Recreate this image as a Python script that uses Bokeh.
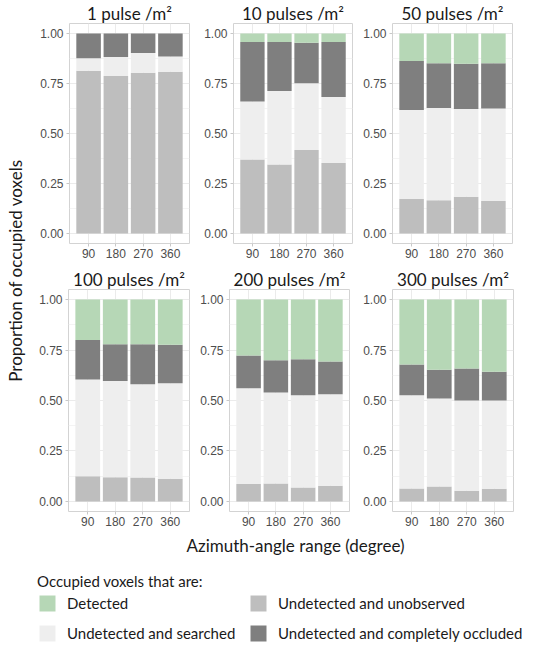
from bokeh.plotting import figure
from bokeh.models import (ColumnDataSource, FactorRange, Range1d, FixedTicker,
                          NumeralTickFormatter, Title, Label, Legend, LegendItem)
from bokeh.layouts import row, column
from bokeh.embed import file_html
from bokeh.resources import INLINE

# ---------------- data ----------------
angles = ["90", "180", "270", "360"]
panel_titles = ["1 pulse /m²", "10 pulses /m²", "50 pulses /m²",
                "100 pulses /m²", "200 pulses /m²", "300 pulses /m²"]

# proportions per panel (rows) and azimuth range (columns)
undetected_unobserved = [
    [0.814, 0.788, 0.804, 0.809],
    [0.370, 0.345, 0.418, 0.352],
    [0.172, 0.166, 0.184, 0.163],
    [0.125, 0.120, 0.119, 0.112],
    [0.086, 0.089, 0.069, 0.078],
    [0.064, 0.074, 0.053, 0.063],
]
undetected_searched = [
    [0.062, 0.095, 0.099, 0.076],
    [0.290, 0.368, 0.333, 0.331],
    [0.445, 0.461, 0.438, 0.462],
    [0.479, 0.477, 0.462, 0.474],
    [0.475, 0.451, 0.457, 0.453],
    [0.462, 0.436, 0.447, 0.437],
]
undetected_occluded = [
    [0.124, 0.117, 0.097, 0.115],
    [0.298, 0.245, 0.203, 0.274],
    [0.245, 0.224, 0.227, 0.226],
    [0.196, 0.182, 0.198, 0.190],
    [0.162, 0.160, 0.179, 0.162],
    [0.152, 0.142, 0.158, 0.142],
]
detected = [
    [0.000, 0.000, 0.000, 0.000],
    [0.042, 0.042, 0.046, 0.043],
    [0.138, 0.149, 0.151, 0.149],
    [0.200, 0.221, 0.221, 0.224],
    [0.277, 0.300, 0.295, 0.307],
    [0.322, 0.348, 0.342, 0.358],
]

y_ticks = [0.0, 0.25, 0.5, 0.75, 1.0]
y_minor = [0.125, 0.375, 0.625, 0.875]

stack_names = ["unobserved", "searched", "occluded", "detected"]
stack_colors = ["#BEBEBE", "#EEEEEE", "#7F7F7F", "#B6D7B6"]
legend_labels = {"detected": "Detected", "searched": "Undetected and searched",
                 "unobserved": "Undetected and unobserved",
                 "occluded": "Undetected and completely occluded"}

TITLE_FONT = "Lato"
TICK_FONT = "Liberation Sans"
TEXT_COLOR = "#1A1A1A"


def make_panel(i, fw, fh, bl, br, bt, bb):
    src = ColumnDataSource(dict(angle=angles,
                                unobserved=undetected_unobserved[i],
                                searched=undetected_searched[i],
                                occluded=undetected_occluded[i],
                                detected=detected[i]))
    p = figure(x_range=FactorRange(factors=angles, range_padding=0.2,
                                   range_padding_units="absolute"),
               y_range=Range1d(-0.05, 1.05), title=None,
               frame_width=fw, frame_height=fh,
               min_border_left=bl, min_border_right=br,
               min_border_bottom=bb, min_border_top=bt,
               toolbar_location=None, output_backend="svg")
    p.add_layout(Title(text=panel_titles[i], align="center", text_font=TITLE_FONT,
                       text_font_size="17px", text_font_style="normal",
                       text_color=TEXT_COLOR, standoff=0), "above")
    p.vbar_stack(stack_names, x="angle", width=0.9, source=src,
                 fill_color=stack_colors, line_color=None)
    p.outline_line_color = "#D3D3D3"
    p.background_fill_color = "#FFFFFF"
    p.border_fill_color = "#FFFFFF"

    p.yaxis.ticker = FixedTicker(ticks=y_ticks, minor_ticks=y_minor)
    p.yaxis.formatter = NumeralTickFormatter(format="0.00")
    for ax in (p.xaxis[0], p.yaxis[0]):
        ax.axis_line_color = None
        ax.major_tick_line_color = "#C8C8C8"
        ax.major_tick_out = 3
        ax.major_tick_in = 0
        ax.minor_tick_line_color = None
        ax.major_label_text_font = TICK_FONT
        ax.major_label_text_font_size = "12px"
        ax.major_label_text_color = "#4D4D4D"
        ax.major_label_standoff = 2
    p.xgrid.grid_line_color = "#EBEBEB"
    p.ygrid.grid_line_color = "#EBEBEB"
    p.ygrid.minor_grid_line_color = "#F4F4F4"
    return p


row1 = row(make_panel(0, 120, 220, 36, 4, 23, 20),
           make_panel(1, 119, 220, 40, 4, 23, 20),
           make_panel(2, 120, 220, 36, 4, 23, 20))
row2 = row(make_panel(3, 121, 222, 35, 4, 26, 19),
           make_panel(4, 120, 222, 36, 4, 26, 19),
           make_panel(5, 121, 222, 39, 4, 26, 19))

# y-axis label column
yl = figure(width=33, height=530, min_border_left=25, min_border_right=0,
            min_border_top=10, min_border_bottom=0, toolbar_location=None,
            output_backend="svg", outline_line_color=None)
yl.axis.visible = False
yl.grid.visible = False
yl.add_layout(Title(text="Proportion of occupied voxels", align="center",
                    text_font=TITLE_FONT, text_font_size="17px",
                    text_font_style="normal", text_color=TEXT_COLOR,
                    standoff=0), "left")

# bottom: x label + legend
BH = 113
bf = figure(width=534, height=BH, x_range=Range1d(0, 534), y_range=Range1d(0, BH),
            min_border=0, toolbar_location=None, output_backend="svg",
            outline_line_color=None)
bf.axis.visible = False
bf.grid.visible = False
bf.add_layout(Label(x=295, y=98, text="Azimuth-angle range (degree)",
                    text_align="center", text_baseline="middle",
                    text_font=TITLE_FONT, text_font_size="17px",
                    text_font_style="normal", text_color=TEXT_COLOR))
# legend proxies (kept outside the visible range)
rends = {}
for name, col in zip(stack_names, stack_colors):
    rends[name] = bf.vbar(x=[-1000], top=[0], bottom=[0], width=1,
                          fill_color=col, line_color=None)


def style_legend(lg):
    lg.glyph_width = 20
    lg.glyph_height = 20
    lg.spacing = 10
    lg.label_standoff = 10
    lg.padding = 0
    lg.margin = 0
    lg.border_line_color = None
    lg.background_fill_alpha = 0
    lg.label_text_font = TITLE_FONT
    lg.label_text_font_size = "15px"
    lg.label_text_color = TEXT_COLOR
    lg.title_text_font = TITLE_FONT
    lg.title_text_font_size = "15px"
    lg.title_text_font_style = "normal"
    lg.title_text_color = TEXT_COLOR
    lg.title_standoff = 3


legA = Legend(items=[LegendItem(label=legend_labels["detected"], renderers=[rends["detected"]]),
                     LegendItem(label=legend_labels["searched"], renderers=[rends["searched"]])],
              location=(37, 0), title="Occupied voxels that are:")
legB = Legend(items=[LegendItem(label=legend_labels["unobserved"], renderers=[rends["unobserved"]]),
                     LegendItem(label=legend_labels["occluded"], renderers=[rends["occluded"]])],
              location=(248, 0))
style_legend(legA)
style_legend(legB)
bf.add_layout(legA)
bf.add_layout(legB)

layout = column(row(yl, column(row1, row2)), bf)

open("out.html", "w").write(file_html(layout, INLINE))
